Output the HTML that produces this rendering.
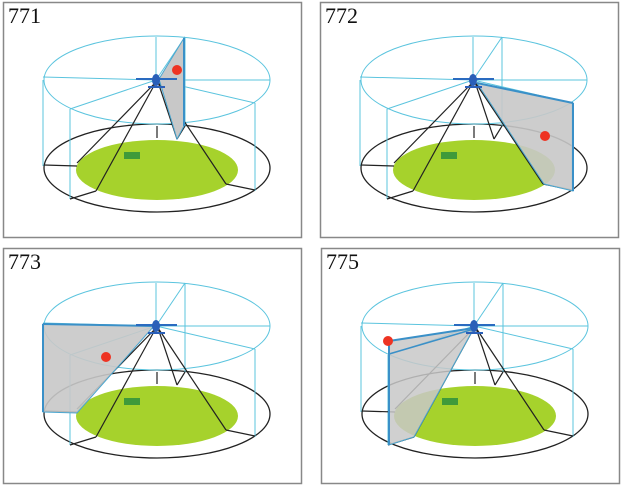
<!DOCTYPE html>
<html><head><style>
html,body{margin:0;padding:0;background:#fff;width:624px;height:489px;overflow:hidden}
svg{display:block}
text{font-family:"Liberation Serif",serif;font-size:22px;fill:#111}
</style></head><body>
<svg width="624" height="489" viewBox="0 0 624 489">
<defs>
<g id="base">
<rect x="3.5" y="2.5" width="298" height="235" fill="#fff" stroke="#888" stroke-width="1.5"/>
<ellipse cx="157" cy="170" rx="81" ry="30" fill="#a6d22c"/>
<rect x="124" y="152" width="16" height="7" fill="#3f9a3a"/>
<ellipse cx="157" cy="168" rx="113" ry="44" fill="none" stroke="#222" stroke-width="1.3"/>
<g stroke="#5bc4de" stroke-width="1" fill="none">
<ellipse cx="157" cy="80" rx="113" ry="44"/>
<line x1="43" y1="80" x2="43" y2="166"/>
<line x1="70" y1="109" x2="70" y2="199"/>
<line x1="255" y1="103" x2="255" y2="191"/>
<line x1="156" y1="37" x2="156" y2="80"/>
<line x1="185" y1="37" x2="185" y2="126"/>
<line x1="156" y1="80" x2="43" y2="77"/>
<line x1="156" y1="80" x2="70" y2="109"/>
<line x1="156" y1="80" x2="255" y2="103"/>
<line x1="156" y1="80" x2="270" y2="80"/>
<line x1="156" y1="80" x2="185" y2="37"/>
</g>
<g stroke="#222" stroke-width="1.2" fill="none">
<line x1="156" y1="82" x2="77" y2="163"/>
<line x1="156" y1="82" x2="96" y2="191"/>
<line x1="158" y1="82" x2="226" y2="184"/>
<line x1="158" y1="82" x2="177" y2="139"/>
<line x1="185" y1="126" x2="177" y2="139"/>
<line x1="157" y1="126" x2="157" y2="138"/>
<line x1="44" y1="165" x2="77" y2="166"/>
<line x1="70" y1="199" x2="96" y2="191"/>
<line x1="226" y1="184" x2="255" y2="190"/>
</g>
</g>
<g id="heli">
<line x1="136" y1="79" x2="177" y2="79" stroke="#2a6bc0" stroke-width="2"/>
<ellipse cx="156" cy="80" rx="4" ry="6" fill="#2a5fb8"/>
<line x1="148" y1="87" x2="165" y2="87" stroke="#2a5fb8" stroke-width="2"/>
</g>
</defs>

<use href="#base"/>
<polygon points="159,79 184,38 184,126 177,139" fill="#c8c8c8" stroke="#4aa6d0" stroke-width="1"/>
<line x1="184" y1="38" x2="184" y2="126" stroke="#3a90c8" stroke-width="2"/>
<circle cx="177" cy="70" r="5" fill="#ee3322"/>
<use href="#heli"/>
<text x="8" y="23">771</text>

<g transform="translate(317,0)">
<use href="#base"/>
<polygon points="160,83 256,103 256,191 227,184" fill="#c8c8c8" fill-opacity="0.9" stroke="#4aa6d0" stroke-width="1"/>
<line x1="160" y1="83" x2="256" y2="103" stroke="#3a90c8" stroke-width="2"/>
<line x1="256" y1="103" x2="256" y2="191" stroke="#3a90c8" stroke-width="2"/>
<circle cx="228" cy="136" r="5" fill="#ee3322"/>
<use href="#heli"/>
<text x="8" y="23">772</text>
</g>

<g transform="translate(0,246)">
<use href="#base"/>
<polygon points="154,80 43,78 43,166 77,167" fill="#c8c8c8" fill-opacity="0.9" stroke="#4aa6d0" stroke-width="1"/>
<line x1="154" y1="80" x2="43" y2="78" stroke="#3a90c8" stroke-width="2"/>
<line x1="43" y1="78" x2="43" y2="166" stroke="#3a90c8" stroke-width="2"/>
<circle cx="106" cy="111" r="5" fill="#ee3322"/>
<use href="#heli"/>
<text x="8" y="23">773</text>
</g>

<g transform="translate(318,246)">
<use href="#base"/>
<polygon points="156,82 71,95 71,199 96,191" fill="#c8c8c8" stroke="#4aa6d0" stroke-width="1" fill-opacity="0.85"/>
<line x1="156" y1="82" x2="71" y2="95" stroke="#3a90c8" stroke-width="2"/>
<line x1="156" y1="83" x2="71" y2="108" stroke="#3a90c8" stroke-width="1.5"/>
<line x1="71" y1="95" x2="71" y2="199" stroke="#3a90c8" stroke-width="2"/>
<circle cx="70" cy="95" r="5" fill="#ee3322"/>
<use href="#heli"/>
<text x="8" y="23">775</text>
</g>
</svg>
</body></html>
